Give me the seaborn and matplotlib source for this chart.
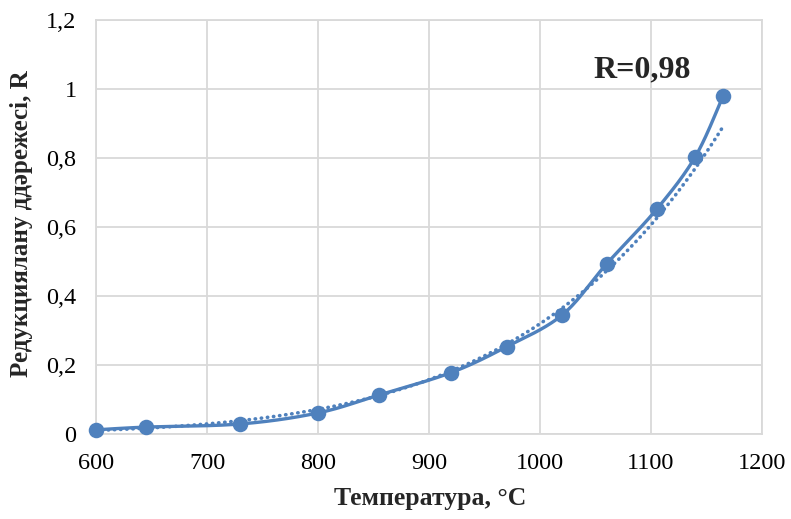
import matplotlib
matplotlib.use("Agg")
import matplotlib.pyplot as plt
import seaborn as sns
import numpy as np
import pandas as pd

# Данные
temperatura = [600, 645, 730, 800, 855, 920, 970, 1020, 1060, 1105, 1140, 1165]
stepen = [0.012, 0.020, 0.029, 0.061, 0.113, 0.178, 0.253, 0.345, 0.493, 0.651, 0.804, 0.980]
x_ticks = [600, 700, 800, 900, 1000, 1100, 1200]
y_ticks = [0, 0.2, 0.4, 0.6, 0.8, 1.0, 1.2]
y_tick_labels = ['0', '0,2', '0,4', '0,6', '0,8', '1', '1,2']
podpis = 'R=0,98'

blue = '#4F81BD'


def smooth(xs, ys, n=30):
    # сглаживание как в Excel (кривые Безье, Catmull-Rom)
    p = np.column_stack([xs, ys]).astype(float)
    p = np.vstack([p[0], p, p[-1]])
    out = []
    for i in range(1, len(p) - 2):
        p0, p1, p2, p3 = p[i - 1], p[i], p[i + 1], p[i + 2]
        c1 = p1 + (p2 - p0) / 6
        c2 = p2 - (p3 - p1) / 6
        t = np.linspace(0, 1, n)[:, None]
        seg = (1 - t) ** 3 * p1 + 3 * (1 - t) ** 2 * t * c1 + 3 * (1 - t) * t ** 2 * c2 + t ** 3 * p2
        out.append(seg)
    out = np.vstack(out)
    return out[:, 0], out[:, 1]


sx, sy = smooth(temperatura, stepen)
df_smooth = pd.DataFrame({'x': sx, 'y': sy})

# степенная линия тренда
b, ln_a = np.polyfit(np.log(temperatura), np.log(stepen), 1)
tx = np.linspace(temperatura[0], temperatura[-1], 200)
df_trend = pd.DataFrame({'x': tx, 'y': np.exp(ln_a) * tx ** b})
df_pts = pd.DataFrame({'x': temperatura, 'y': stepen})

sns.set_style('whitegrid')
plt.rcParams['font.family'] = ['Liberation Serif', 'DejaVu Serif']

fig = plt.figure(figsize=(7.91, 5.19), dpi=100)
ax = fig.add_axes([0.1214, 0.1638, 0.8419, 0.7977])

sns.lineplot(data=df_trend, x='x', y='y', ax=ax, color=blue, linewidth=2.6,
             linestyle=(0, (0.1, 1.6)), dash_capstyle='round', sort=False)
sns.lineplot(data=df_smooth, x='x', y='y', ax=ax, color=blue, linewidth=2.4, sort=False)
sns.scatterplot(data=df_pts, x='x', y='y', ax=ax, color=blue, s=125, edgecolor=blue,
                linewidth=0, zorder=5, clip_on=False)

ax.set_xlim(600, 1200)
ax.set_ylim(0, 1.2)
ax.set_xticks(x_ticks)
ax.set_xticklabels([str(v) for v in x_ticks])
ax.set_yticks(y_ticks)
ax.set_yticklabels(y_tick_labels)
ax.tick_params(labelsize=17.5, colors='black', length=0)
ax.tick_params(axis='x', pad=14)
ax.tick_params(axis='y', pad=14)
ax.grid(True, color='#D9D9D9', linewidth=1.3)
for s in ax.spines.values():
    s.set_color('#D9D9D9')
    s.set_linewidth(1.3)

ax.set_xlabel('Температура, °С', fontsize=18.5, fontweight='bold')
ax.set_ylabel('Редукциялану ддәрежесі, R', fontsize=18, fontweight='bold')
ax.xaxis.set_label_coords(0.5015, -0.128)
ax.yaxis.set_label_coords(-0.0946, 0.507)

ax.text(1092, 1.055, podpis, fontsize=23, fontweight='bold', ha='center', va='center')

fig.savefig('out.png', dpi=100)
